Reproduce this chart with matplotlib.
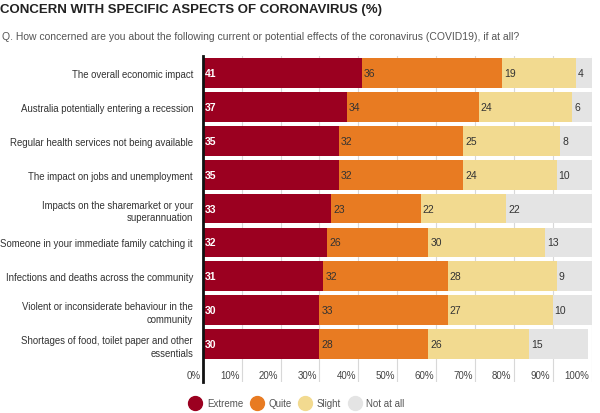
import matplotlib.pyplot as plt
from matplotlib.lines import Line2D
import numpy as np

plt.rcParams['font.family'] = ['Liberation Sans', 'DejaVu Sans']

categories = [
    'The overall economic impact',
    'Australia potentially entering a recession',
    'Regular health services not being available',
    'The impact on jobs and unemployment',
    'Impacts on the sharemarket or your\nsuperannuation',
    'Someone in your immediate family catching it',
    'Infections and deaths across the community',
    'Violent or inconsiderate behaviour in the\ncommunity',
    'Shortages of food, toilet paper and other\nessentials',
]
extreme = [41, 37, 35, 35, 33, 32, 31, 30, 30]
quite = [36, 34, 32, 32, 23, 26, 32, 33, 28]
slight = [19, 24, 25, 24, 22, 30, 28, 27, 26]
not_at_all = [4, 6, 8, 10, 22, 13, 9, 10, 15]

series = [('Extreme', extreme, '#9b0020'),
          ('Quite', quite, '#e87b22'),
          ('Slight', slight, '#f2da90'),
          ('Not at all', not_at_all, '#e4e4e4')]
ticks = [0, 10, 20, 30, 40, 50, 60, 70, 80, 90, 100]

fig = plt.figure(figsize=(6, 4.14), dpi=100)
ax = fig.add_axes([0.338, 0.075, 0.648, 0.787])

y = np.arange(len(categories))
left = np.zeros(len(categories))
for name, vals, col in series:
    vals = np.array(vals)
    ax.barh(y, vals, left=left, height=0.88, color=col, zorder=2)
    for i, v in enumerate(vals):
        if name == 'Extreme':
            ax.text(left[i] + 0.5, y[i], str(v), va='center', ha='left',
                    fontsize=7.5, color='white', fontweight='bold', zorder=3)
        else:
            ax.text(left[i] + 0.5, y[i], str(v), va='center', ha='left',
                    fontsize=7.5, color='#333333', zorder=3)
    left = left + vals

ax.set_xlim(0, 100)
ax.set_ylim(9.12, -0.5)
for t in ticks[1:]:
    ax.axvline(t, color='#d8d8d8', lw=0.8, zorder=1)
for t in ticks:
    ax.text(t - 0.6, 8.92, f'{t}%', ha='right', va='center', fontsize=7, color='#444444')

ax.set_yticks(y)
ax.set_yticklabels(categories, fontsize=6.9, color='#333333', linespacing=1.35)
ax.tick_params(axis='y', length=0, pad=7)
ax.set_xticks([])
for s in ['top', 'right', 'bottom']:
    ax.spines[s].set_visible(False)
ax.spines['left'].set_color('#111111')
ax.spines['left'].set_linewidth(2)
ax.spines['left'].set_zorder(4)

fig.text(0.0, 0.977, 'CONCERN WITH SPECIFIC ASPECTS OF CORONAVIRUS (%)', fontsize=9.5,
         fontweight='bold', color='#222222', va='center', ha='left')
fig.text(0.003, 0.91, 'Q. How concerned are you about the following current or potential effects of the coronavirus (COVID19), if at all?',
         fontsize=7.5, color='#555555', va='center', ha='left')

handles = [Line2D([], [], marker='o', ls='', markersize=10, color=col, label=name)
           for name, _, col in series]
fig.legend(handles=handles, loc='center', bbox_to_anchor=(0.495, 0.024), ncol=4,
           frameon=False, fontsize=7, labelcolor='#555555', handletextpad=0.6,
           columnspacing=0.8, handlelength=1.2)

fig.savefig('out.png', dpi=100)
